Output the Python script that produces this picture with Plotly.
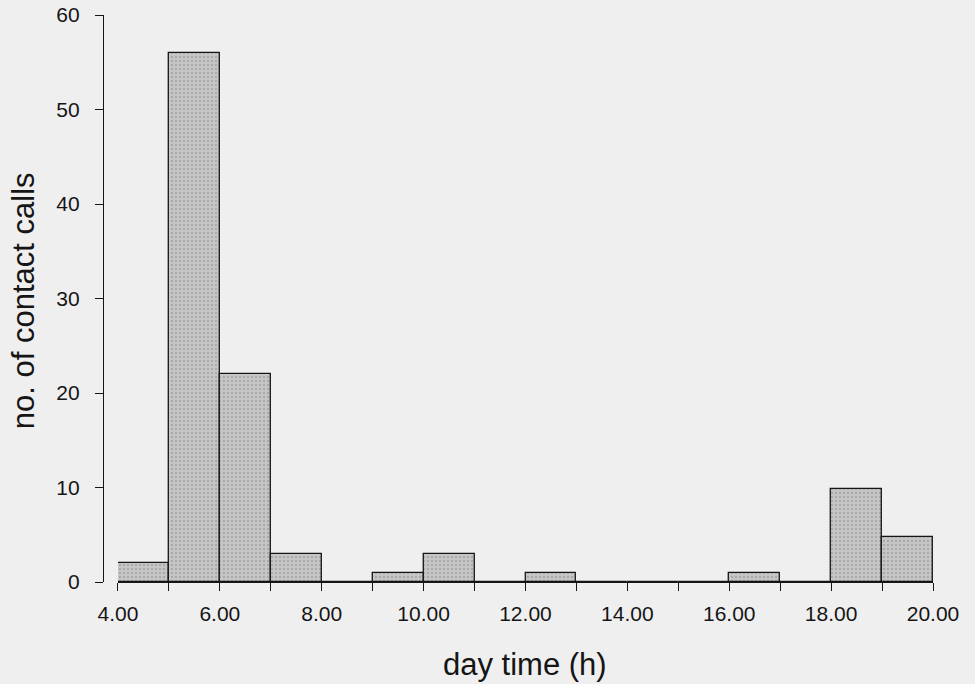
import plotly.graph_objects as go

# Data: hourly bins (start hour) and counts of contact calls
bin_starts = [4, 5, 6, 7, 8, 9, 10, 11, 12, 13, 14, 15, 16, 17, 18, 19]
counts = [2, 56, 22, 3, 0, 1, 3, 0, 1, 0, 0, 0, 1, 0, 9.8, 4.8]
x_tick_vals = list(range(4, 21, 2))
x_tick_text = ["4.00", "6.00", "8.00", "10.00", "12.00", "14.00", "16.00", "18.00", "20.00"]
y_tick_vals = [0, 10, 20, 30, 40, 50, 60]

bg = "#efefef"
ink = "#151515"
FONT = "Liberation Sans, Arial, Helvetica, sans-serif"

centers = [b + 0.5 for b in bin_starts]

fig = go.Figure()
fig.add_trace(go.Bar(
    x=centers, y=counts, width=1.0,
    marker=dict(
        color="#c0c0c0",
        line=dict(color=ink, width=1.3),
        pattern=dict(shape=".", fgcolor="#858585", bgcolor="#c6c6c6", size=4, solidity=0.25),
    ),
    showlegend=False,
))

fig.update_layout(
    width=975, height=684,
    paper_bgcolor=bg, plot_bgcolor=bg,
    margin=dict(l=103, r=42, t=15, b=102),
    font=dict(family=FONT, color=ink, size=21),
    bargap=0,
    xaxis=dict(
        domain=[0.018, 1.0],
        range=[4, 20],
        automargin=False,
        showline=True, linecolor=ink, linewidth=1.3,
        showgrid=False, zeroline=False,
        ticks="outside", ticklen=8, tickcolor=ink, tickwidth=1.3,
        tickmode="array", tickvals=x_tick_vals, ticktext=x_tick_text,
        minor=dict(dtick=1, tick0=4, ticks="outside", ticklen=8, tickcolor=ink, tickwidth=1.3),
        tickfont=dict(size=21),
        ticklabelstandoff=5,
    ),
    yaxis=dict(
        anchor="free", position=0,
        range=[0, 60],
        automargin=False,
        showline=True, linecolor=ink, linewidth=1.3,
        showgrid=False, zeroline=False,
        ticks="outside", ticklen=8, tickcolor=ink, tickwidth=1.3,
        tickmode="array", tickvals=y_tick_vals,
        tickfont=dict(size=21),
        ticklabelstandoff=11,
    ),
    annotations=[
        dict(text="day time (h)", xref="paper", yref="paper", x=0.509, y=-0.145,
             xanchor="center", yanchor="middle", showarrow=False, font=dict(size=31)),
        dict(text="no. of contact calls", xref="paper", yref="paper", x=-0.0964, y=0.497,
             xanchor="center", yanchor="middle", showarrow=False, textangle=-90,
             font=dict(size=31)),
    ],
)

fig.write_html("out.html", config={"displayModeBar": False},
               post_script="document.body.style.margin='0px';document.body.style.overflow='hidden';")
